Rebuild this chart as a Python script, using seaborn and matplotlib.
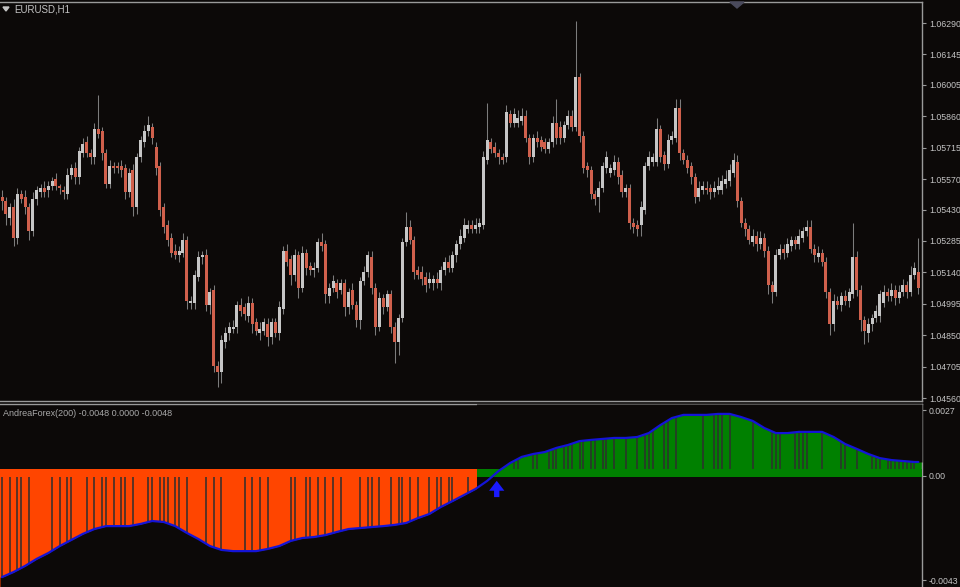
import numpy as np
import pandas as pd
import matplotlib
matplotlib.use("Agg")
import matplotlib.pyplot as plt
from matplotlib.patches import Rectangle, FancyArrowPatch, Polygon
import seaborn as sns

# ---------------- data ----------------
symbol_label = "EURUSD,H1"
indicator_label = "AndreaForex(200) -0.0048 0.0000 -0.0048"

opens = [
    1.0549, 1.0547, 1.0539, 1.0544, 1.0530, 1.0550, 1.0549, 1.0544, 1.0533, 1.0548,
    1.0551, 1.0553, 1.0552, 1.0554, 1.0557, 1.0554, 1.0552, 1.0550, 1.0559, 1.0562,
    1.0558, 1.0569, 1.0574, 1.0569, 1.0567, 1.0580, 1.0579, 1.0569, 1.0555, 1.0563,
    1.0563, 1.0563, 1.0562, 1.0551, 1.0561, 1.0544, 1.0567, 1.0574, 1.0579, 1.0581,
    1.0572, 1.0563, 1.0544, 1.0536, 1.0530, 1.0524, 1.0522, 1.0523, 1.0529, 1.0500,
    1.0500, 1.0512, 1.0521, 1.0522, 1.0499, 1.0506, 1.0471, 1.0468, 1.0482, 1.0486,
    1.0488, 1.0489, 1.0499, 1.0498, 1.0494, 1.0500, 1.0491, 1.0486, 1.0487, 1.0490,
    1.0484, 1.0491, 1.0486, 1.0497, 1.0524, 1.0520, 1.0513, 1.0522, 1.0507, 1.0523,
    1.0517, 1.0515, 1.0516, 1.0528, 1.0527, 1.0503, 1.0507, 1.0509, 1.0506, 1.0509,
    1.0498, 1.0506, 1.0499, 1.0492, 1.0510, 1.0514, 1.0521, 1.0507, 1.0489, 1.0502,
    1.0498, 1.0504, 1.0489, 1.0482, 1.0493, 1.0528, 1.0535, 1.0529, 1.0515, 1.0514,
    1.0512, 1.0509, 1.0509, 1.0511, 1.0509, 1.0515, 1.0519, 1.0516, 1.0522, 1.0527,
    1.0530, 1.0534, 1.0536, 1.0534, 1.0535, 1.0536, 1.0566, 1.0574, 1.0572, 1.0569,
    1.0567, 1.0567, 1.0587, 1.0583, 1.0583, 1.0584, 1.0586, 1.0576, 1.0567, 1.0576,
    1.0575, 1.0574, 1.0571, 1.0574, 1.0583, 1.0581, 1.0576, 1.0582, 1.0586, 1.0581,
    1.0604, 1.0577, 1.0563, 1.0561, 1.0550, 1.0549, 1.0553, 1.0562, 1.0560, 1.0561,
    1.0565, 1.0559, 1.0551, 1.0553, 1.0537, 1.0536, 1.0536, 1.0543, 1.0563, 1.0565,
    1.0565, 1.0580, 1.0568, 1.0564, 1.0575, 1.0576, 1.0590, 1.0569, 1.0566, 1.0563,
    1.0558, 1.0549, 1.0552, 1.0553, 1.0553, 1.0551, 1.0552, 1.0552, 1.0555, 1.0556,
    1.0560, 1.0565, 1.0547, 1.0537, 1.0534, 1.0528, 1.0531, 1.0527, 1.0530, 1.0524,
    1.0508, 1.0505, 1.0522, 1.0525, 1.0523, 1.0526, 1.0529, 1.0527, 1.0530, 1.0533,
    1.0535, 1.0525, 1.0521, 1.0523, 1.0519, 1.0505, 1.0490, 1.0501, 1.0499, 1.0503,
    1.0501, 1.0504, 1.0521, 1.0506, 1.0492, 1.0486, 1.0490, 1.0493, 1.0494, 1.0500,
    1.0505, 1.0503, 1.0506, 1.0502, 1.0505, 1.0508, 1.0505, 1.0513, 1.0514,
]
closes = [
    1.0547, 1.0541, 1.0544, 1.0530, 1.0550, 1.0548, 1.0544, 1.0533, 1.0548, 1.0552,
    1.0553, 1.0551, 1.0554, 1.0556, 1.0554, 1.0553, 1.0551, 1.0559, 1.0562, 1.0558,
    1.0570, 1.0573, 1.0569, 1.0567, 1.0580, 1.0578, 1.0569, 1.0555, 1.0563, 1.0562,
    1.0562, 1.0561, 1.0551, 1.0560, 1.0544, 1.0567, 1.0575, 1.0579, 1.0582, 1.0576,
    1.0562, 1.0543, 1.0535, 1.0529, 1.0523, 1.0522, 1.0524, 1.0529, 1.0501, 1.0501,
    1.0513, 1.0521, 1.0522, 1.0499, 1.0505, 1.0471, 1.0468, 1.0483, 1.0486, 1.0489,
    1.0489, 1.0499, 1.0496, 1.0495, 1.0500, 1.0490, 1.0487, 1.0488, 1.0491, 1.0484,
    1.0491, 1.0486, 1.0498, 1.0524, 1.0519, 1.0513, 1.0522, 1.0507, 1.0523, 1.0516,
    1.0515, 1.0516, 1.0528, 1.0526, 1.0504, 1.0507, 1.0510, 1.0505, 1.0509, 1.0498,
    1.0505, 1.0499, 1.0492, 1.0510, 1.0514, 1.0522, 1.0507, 1.0489, 1.0502, 1.0498,
    1.0504, 1.0489, 1.0482, 1.0493, 1.0528, 1.0535, 1.0529, 1.0514, 1.0513, 1.0511,
    1.0508, 1.0511, 1.0511, 1.0509, 1.0515, 1.0519, 1.0516, 1.0522, 1.0527, 1.0531,
    1.0536, 1.0536, 1.0534, 1.0536, 1.0537, 1.0567, 1.0575, 1.0571, 1.0569, 1.0567,
    1.0566, 1.0588, 1.0583, 1.0587, 1.0585, 1.0586, 1.0576, 1.0567, 1.0576, 1.0574,
    1.0572, 1.0571, 1.0574, 1.0583, 1.0576, 1.0576, 1.0582, 1.0586, 1.0581, 1.0604,
    1.0577, 1.0562, 1.0561, 1.0550, 1.0548, 1.0553, 1.0563, 1.0567, 1.0562, 1.0565,
    1.0558, 1.0551, 1.0553, 1.0537, 1.0535, 1.0534, 1.0544, 1.0563, 1.0567, 1.0567,
    1.0580, 1.0567, 1.0564, 1.0575, 1.0577, 1.0590, 1.0569, 1.0566, 1.0562, 1.0558,
    1.0549, 1.0553, 1.0554, 1.0552, 1.0551, 1.0553, 1.0554, 1.0556, 1.0557, 1.0561,
    1.0566, 1.0547, 1.0537, 1.0534, 1.0529, 1.0531, 1.0527, 1.0530, 1.0524, 1.0508,
    1.0505, 1.0522, 1.0525, 1.0523, 1.0527, 1.0529, 1.0527, 1.0531, 1.0533, 1.0535,
    1.0525, 1.0522, 1.0523, 1.0519, 1.0505, 1.0490, 1.0501, 1.0499, 1.0503, 1.0501,
    1.0505, 1.0521, 1.0506, 1.0492, 1.0487, 1.0490, 1.0493, 1.0496, 1.0504, 1.0505,
    1.0503, 1.0506, 1.0502, 1.0505, 1.0508, 1.0505, 1.0513, 1.0516, 1.0507,
]
# wick lengths beyond the body, in pips
wick_hi = [
    3, 2, 2, 4, 3, 2, 3, 2, 3, 2,   2, 3, 2, 2, 3, 1, 2, 3, 2, 3,
    2, 3, 3, 2, 3, 16, 2, 2, 3, 2,  2, 3, 2, 2, 3, 2, 2, 3, 4, 2,
    2, 2, 2, 2, 2, 3, 2, 3, 2, 2,   2, 3, 2, 3, 2, 2, 2, 2, 3, 2,
    3, 2, 3, 2, 3, 2, 2, 3, 2, 3,   2, 2, 3, 2, 3, 2, 3, 2, 3, 2,
    2, 3, 2, 4, 2, 2, 3, 2, 2, 2,   2, 3, 2, 2, 3, 2, 3, 2, 3, 2,
    2, 2, 2, 2, 2, 7, 3, 2, 2, 3,   2, 3, 2, 3, 2, 2, 3, 2, 2, 3,
    3, 2, 2, 3, 2, 3, 17, 2, 2, 2,  2, 3, 2, 3, 4, 4, 3, 2, 2, 3,
    2, 2, 2, 3, 11, 3, 2, 3, 3, 26, 2, 2, 2, 2, 2, 3, 2, 3, 2, 3,
    2, 2, 2, 2, 2, 2, 3, 2, 3, 2,   5, 2, 2, 3, 2, 4, 4, 2, 2, 2,
    2, 3, 2, 3, 2, 3, 4, 3, 4, 3,   3, 3, 2, 2, 2, 3, 2, 3, 2, 2,
    2, 3, 2, 2, 3, 2, 2, 3, 2, 3,   3, 2, 3, 2, 2, 2, 3, 2, 2, 3,
    2, 16, 3, 2, 2, 3, 2, 3, 2, 3,  2, 3, 2, 3, 3, 2, 4, 3, 16,
]
wick_lo = [
    4, 5, 3, 4, 3, 2, 3, 4, 2, 3,   2, 2, 3, 2, 2, 3, 3, 2, 2, 3,
    3, 2, 2, 3, 3, 2, 3, 2, 2, 2,   2, 3, 3, 2, 4, 3, 2, 2, 2, 3,
    3, 3, 3, 3, 2, 2, 3, 2, 4, 3,   3, 2, 3, 3, 4, 3, 7, 5, 3, 3,
    2, 3, 2, 3, 3, 4, 2, 3, 2, 4,   3, 2, 3, 2, 2, 5, 3, 5, 2, 3,
    2, 3, 2, 2, 4, 3, 2, 3, 2, 4,   3, 2, 3, 4, 2, 2, 3, 4, 2, 3,
    2, 3, 10, 6, 2, 2, 2, 3, 2, 3,  3, 2, 3, 2, 3, 2, 2, 2, 3, 2,
    2, 2, 2, 2, 3, 2, 2, 2, 2, 3,   2, 2, 2, 2, 2, 2, 2, 3, 2, 2,
    2, 2, 2, 2, 3, 3, 2, 2, 2, 2,   3, 2, 3, 2, 3, 7, 2, 2, 2, 2,
    3, 2, 2, 3, 3, 3, 5, 2, 2, 2,   2, 2, 3, 2, 2, 2, 3, 2, 2, 3,
    3, 2, 2, 2, 3, 2, 2, 2, 2, 2,   2, 3, 2, 3, 2, 2, 3, 2, 3, 4,
    5, 2, 2, 3, 2, 2, 2, 2, 2, 2,   2, 3, 2, 2, 3, 5, 3, 2, 3, 2,
    3, 2, 3, 5, 6, 4, 3, 2, 3, 2,   2, 2, 3, 2, 2, 3, 2, 2, 3,
]
price_ticks = [1.06290, 1.06145, 1.06005, 1.05860, 1.05715, 1.05570, 1.05430,
               1.05285, 1.05140, 1.04995, 1.04850, 1.04705, 1.04560]
price_tick_labels = ["1.06290", "1.06145", "1.06005", "1.05860", "1.05715", "1.05570",
                     "1.05430", "1.05285", "1.05140", "1.04995", "1.04850", "1.04705", "1.04560"]

# oscillator (AndreaForex) read at every third bar
ind_bar = [0, 3, 6, 9, 12, 15, 18, 21, 24, 27, 30, 33, 36, 39, 42, 45, 48, 51, 54, 57,
           60, 63, 66, 69, 72, 75, 78, 81, 84, 87, 90, 93, 96, 99, 102, 105, 108, 111, 114, 117,
           120, 123, 126, 129, 132, 135, 138, 141, 144, 147, 150, 153, 156, 159, 162, 165, 168, 171, 174, 177,
           180, 183, 186, 189, 192, 195, 198, 201, 204, 207, 210, 213, 216, 219, 222, 225, 228, 231, 234, 237, 238]
ind_val = [-0.00418, -0.00397, -0.00372, -0.00343, -0.00319, -0.00290, -0.00265, -0.00240, -0.00220, -0.00208,
           -0.00208, -0.00208, -0.00199, -0.00187, -0.00191, -0.00208, -0.00236, -0.00261, -0.00290, -0.00306,
           -0.00311, -0.00311, -0.00311, -0.00302, -0.00290, -0.00269, -0.00257, -0.00253, -0.00245, -0.00232,
           -0.00220, -0.00216, -0.00212, -0.00208, -0.00203, -0.00195, -0.00175, -0.00158, -0.00129, -0.00105,
           -0.00080, -0.00055, -0.00022, 0.00019, 0.00052, 0.00077, 0.00089, 0.00097, 0.00114, 0.00126,
           0.00142, 0.00147, 0.00151, 0.00155, 0.00155, 0.00159, 0.00175, 0.00208, 0.00237, 0.00250,
           0.00250, 0.00250, 0.00254, 0.00254, 0.00241, 0.00225, 0.00196, 0.00175, 0.00175, 0.00180,
           0.00180, 0.00180, 0.00159, 0.00130, 0.00110, 0.00089, 0.00072, 0.00064, 0.00060, 0.00056, 0.00056]
trend_change_bar = 124          # first bar coloured as up-trend
gap_bars = [0, 2, 4, 5, 7, 13, 15, 17, 18, 22, 24, 26, 27, 29, 31, 32, 34, 38, 39, 41, 42, 43, 45, 46, 48,
            53, 55, 57, 63, 65, 67, 69, 75, 76, 79, 80, 82, 84, 86, 88, 93, 95, 96, 98, 101, 103, 104,
            106, 108, 111, 113, 114, 116, 117, 121,
            133, 134, 138, 139, 142, 143, 144, 146, 147, 148, 150, 151, 153, 154, 156, 157, 159, 162,
            165, 167, 168, 169, 172, 173, 175, 182, 185, 186, 187, 189, 195, 200, 201, 202, 206, 207,
            208, 209, 213, 218, 219, 222, 226, 227, 228, 230, 231, 232, 233, 234, 235, 236, 237]
arrow_bar = 128.5
arrow_tip, arrow_tail = -0.0001, -0.0010
ind_ticks = [0.0027, 0.0, -0.0043]
ind_tick_labels = ["0.0027", "0.00", "-0.0043"]

# ---------------- style ----------------
sns.set_theme(style="dark")
plt.rcParams['font.family'] = ['Liberation Sans', 'DejaVu Sans']

BG = '#0c0908'
AXC = '#9a9a9a'
TXT = '#c4c4c4'
BULL = '#c6c6c6'
BEAR = '#d0604c'
WICK = '#7c7c7c'
ORANGE = '#ff4500'
GREEN = '#008000'
BLUE = '#1414d8'
ARROW = '#1a1aff'
GAP = '#2e2e2e'

W, H = 960, 587
fig = plt.figure(figsize=(9.6, 5.87), dpi=100, facecolor=BG)


def px_rect(x0, y0, x1, y1):
    return [x0 / W, 1 - y1 / H, (x1 - x0) / W, (y1 - y0) / H]


ax = fig.add_axes(px_rect(0, 2, 922, 401))
ax2 = fig.add_axes(px_rect(0, 404, 922, 587))
XMIN, XMAX = -0.52, 238.96

for a in (ax, ax2):
    a.set_facecolor(BG)
    a.grid(False)
    a.set_xlim(XMIN, XMAX)
    a.set_xticks([])
    a.yaxis.tick_right()
    a.tick_params(axis='y', colors=AXC, labelcolor=TXT, labelsize=6.3, length=3,
                  width=0.8, pad=2, direction='out')
    a.spines['left'].set_visible(False)
    a.spines['right'].set_color(AXC)
    a.spines['top'].set_color(AXC)
    a.spines['bottom'].set_color(AXC)
    for s in a.spines.values():
        s.set_linewidth(1.0)
ax2.spines['bottom'].set_visible(False)

# ---------------- candles ----------------
df = pd.DataFrame({'open': opens, 'close': closes,
                   'hi': wick_hi, 'lo': wick_lo})
df['bar'] = np.arange(len(df))
df['top'] = df[['open', 'close']].max(axis=1)
df['bot'] = df[['open', 'close']].min(axis=1)
df['high'] = df['top'] + df['hi'] * 0.0001
df['low'] = df['bot'] - df['lo'] * 0.0001
df['up'] = df['close'] >= df['open']

ax.vlines(df['bar'], df['low'], df['high'], color=WICK, lw=0.75, zorder=2)
body = np.maximum(df['top'] - df['bot'], 0.00003)
ax.bar(df['bar'], body, bottom=df['bot'], width=0.78,
       color=np.where(df['up'], BULL, BEAR), linewidth=0, zorder=3)

ax.set_ylim(1.04547, 1.06387)
ax.set_yticks(price_ticks)
ax.set_yticklabels(price_tick_labels)

# ---------------- oscillator ----------------
YMIN, YMAX = -0.004587, 0.002948
ax2.set_ylim(YMIN, YMAX)
sw = trend_change_bar - 0.5
ax2.fill_between([XMIN, sw], YMIN, 0, color=ORANGE, lw=0, zorder=1)
ax2.fill_between([sw, XMAX], 0, YMAX, color=GREEN, lw=0, zorder=1)
g = np.array(gap_bars)
ax2.vlines(g[g < sw], YMIN, 0, color=GAP, lw=1.1, zorder=2)
ax2.vlines(g[g > sw], 0, YMAX, color=GAP, lw=1.1, zorder=2)

bx = np.r_[XMIN, ind_bar, XMAX]
bv = np.r_[ind_val[0], ind_val, ind_val[-1]]
c1 = ax2.fill_between(bx, YMIN, bv, color=BG, lw=0, zorder=3)
c1.set_clip_path(Rectangle((XMIN, YMIN), sw - XMIN, YMAX - YMIN, transform=ax2.transData))
c2 = ax2.fill_between(bx, bv, YMAX, color=BG, lw=0, zorder=3)
c2.set_clip_path(Rectangle((sw, YMIN), XMAX - sw, YMAX - YMIN, transform=ax2.transData))

band_lo, band_hi = -0.00006, 0.00027
ax2.fill_between([XMIN, sw], band_lo, band_hi, color=ORANGE, lw=0, zorder=4)
ax2.fill_between([sw, XMAX], band_lo, band_hi, color=GREEN, lw=0, zorder=4)

sns.lineplot(x=ind_bar, y=ind_val, ax=ax2, color=BLUE, lw=1.6, zorder=5)
ax2.set_xlabel('')
ax2.set_ylabel('')

arr = FancyArrowPatch((arrow_bar, arrow_tail), (arrow_bar, arrow_tip),
                      arrowstyle='simple,head_length=0.65,head_width=1.0,tail_width=0.35',
                      mutation_scale=11, color=ARROW, lw=0, zorder=6)
ax2.add_patch(arr)

ax2.set_yticks(ind_ticks)
ax2.set_yticklabels(ind_tick_labels)

# ---------------- labels ----------------
fig.text(14 / W, 1 - 10 / H, symbol_label, color=TXT, fontsize=7, va='center', ha='left')
fig.patches.append(Polygon([(3 / W, 1 - 7 / H), (9 / W, 1 - 7 / H), (6 / W, 1 - 11 / H)],
                           closed=True, transform=fig.transFigure, color=TXT))
fig.patches.append(Polygon([(730 / W, 1 - 2 / H), (744 / W, 1 - 2 / H), (737 / W, 1 - 8 / H)],
                           closed=True, transform=fig.transFigure, color='#4a4a5c'))
fig.text(3 / W, 1 - 413 / H, indicator_label, color='#a8a8a8', fontsize=6.5,
         va='center', ha='left')

fig.savefig('out.png', dpi=100, facecolor=BG)
